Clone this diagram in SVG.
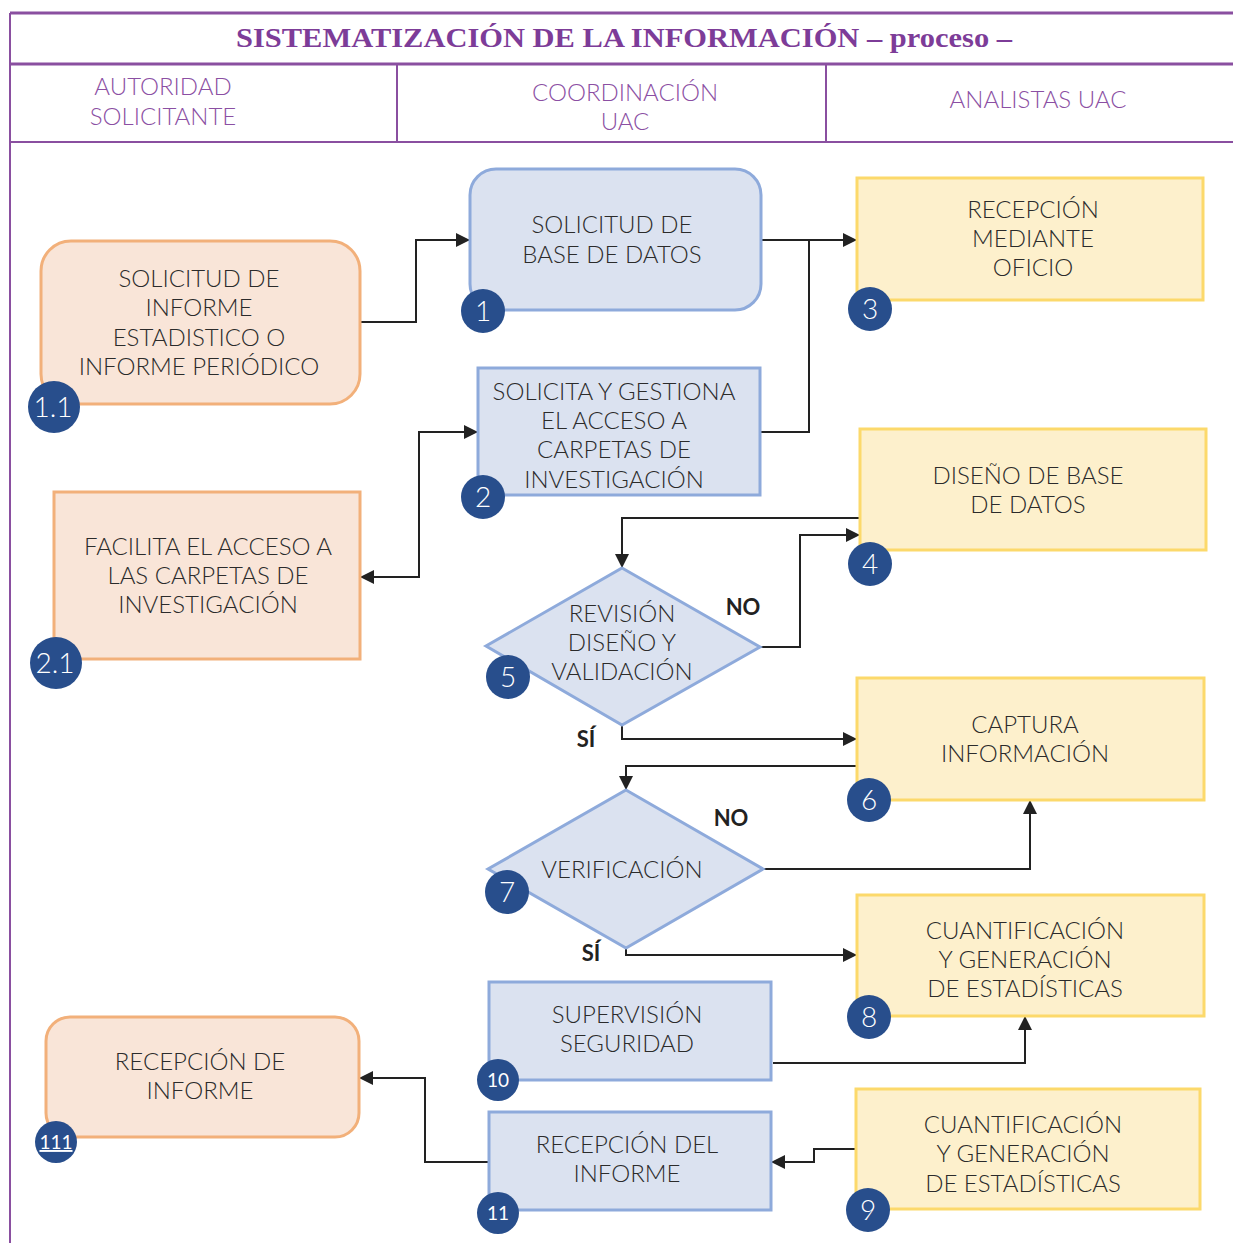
<svg xmlns="http://www.w3.org/2000/svg" width="1233" height="1243" viewBox="0 0 1233 1243">
<defs>
<marker id="ah" viewBox="0 0 10 10" refX="10" refY="5" markerWidth="14" markerHeight="14" markerUnits="userSpaceOnUse" orient="auto-start-reverse"><path d="M0,0 L10,5 L0,10 z" fill="#222"/></marker>
<style>
.frame{stroke:#8a4fa0;fill:none}
.title{font-family:"Liberation Serif",serif;font-weight:bold;font-size:28px;fill:#7d3c98}
.col{font-family:Lato,"Liberation Sans",sans-serif;font-weight:300;font-size:24px;fill:#8b4fa3;text-anchor:middle}
.t{font-family:Lato,"Liberation Sans",sans-serif;font-weight:300;font-size:24px;fill:#2b2b2b;text-anchor:middle}
.lbl{font-family:Lato,"Liberation Sans",sans-serif;font-weight:bold;font-size:22px;fill:#222;text-anchor:middle}
.orange{fill:#f9e5d8;stroke:#f2b07a;stroke-width:3}
.blue{fill:#dbe2f0;stroke:#8eaadb;stroke-width:3}
.yellow{fill:#fdf0cc;stroke:#fcd96b;stroke-width:3}
.badge{fill:#284e8c}
.bt{font-family:Lato,"Liberation Sans",sans-serif;font-weight:300;font-size:28px;fill:#fff;text-anchor:middle}
.bts{font-family:Lato,"Liberation Sans",sans-serif;font-size:19px;fill:#fff;text-anchor:middle}
.conn path{fill:none;stroke:#222;stroke-width:2}
</style>
</defs>
<rect width="1233" height="1243" fill="#fff"/>
<g id="header">
<line class="frame" x1="10" y1="13" x2="1233" y2="13" stroke-width="3"/>
<line class="frame" x1="10" y1="64" x2="1233" y2="64" stroke-width="3"/>
<line class="frame" x1="10" y1="142" x2="1233" y2="142" stroke-width="2"/>
<line class="frame" x1="10" y1="13" x2="10" y2="1243" stroke-width="2"/>
<line class="frame" x1="397" y1="64" x2="397" y2="142" stroke-width="2"/>
<line class="frame" x1="826" y1="64" x2="826" y2="142" stroke-width="2"/>
<text class="title" x="236" y="47" textLength="776" lengthAdjust="spacingAndGlyphs">SISTEMATIZACIÓN DE LA INFORMACIÓN – proceso –</text>
<text class="col" x="163" y="95">AUTORIDAD</text>
<text class="col" x="163" y="125">SOLICITANTE</text>
<text class="col" x="625" y="101">COORDINACIÓN</text>
<text class="col" x="625" y="130">UAC</text>
<text class="col" x="1038" y="108">ANALISTAS UAC</text>
</g>
<g class="conn" id="connectors">
<path d="M360,322 H416 V240 H470" marker-end="url(#ah)"/>
<path d="M360,577 H419 V432 H478" marker-start="url(#ah)" marker-end="url(#ah)"/>
<path d="M761,240 H857" marker-end="url(#ah)"/>
<path d="M760,432 H809 V240"/>
<path d="M860,518 H622 V568" marker-end="url(#ah)"/>
<path d="M760,647 H800 V535 H860" marker-end="url(#ah)"/>
<path d="M622,725 V739 H857" marker-end="url(#ah)"/>
<path d="M857,766 H626 V790" marker-end="url(#ah)"/>
<path d="M763,869 H1030 V800" marker-end="url(#ah)"/>
<path d="M626,948 V955 H857" marker-end="url(#ah)"/>
<path d="M773,1063 H1025 V1016" marker-end="url(#ah)"/>
<path d="M856,1149 H814 V1162 H771" marker-end="url(#ah)"/>
<path d="M489,1162 H425 V1078 H359" marker-end="url(#ah)"/>
</g>
<g id="n1_1">
<rect class="orange" x="41" y="241" width="319" height="163" rx="30"/>
<text class="t" x="199" y="287">SOLICITUD  DE</text>
<text class="t" x="199" y="316">INFORME</text>
<text class="t" x="199" y="346">ESTADISTICO O</text>
<text class="t" x="199" y="375">INFORME PERIÓDICO</text>
<circle class="badge" cx="54" cy="407" r="26"/>
<text class="bt" x="53" y="417">1.1</text>
</g>
<g id="n1">
<rect class="blue" x="470" y="169" width="291" height="141" rx="26"/>
<text class="t" x="612" y="233">SOLICITUD DE</text>
<text class="t" x="612" y="263">BASE DE DATOS</text>
<circle class="badge" cx="483" cy="311" r="22"/>
<text class="bt" x="483" y="321">1</text>
</g>
<g id="n3">
<rect class="yellow" x="857" y="178" width="346" height="122"/>
<text class="t" x="1033" y="218">RECEPCIÓN</text>
<text class="t" x="1033" y="247">MEDIANTE</text>
<text class="t" x="1033" y="276">OFICIO</text>
<circle class="badge" cx="870" cy="309" r="22"/>
<text class="bt" x="870" y="319">3</text>
</g>
<g id="n2">
<rect class="blue" x="478" y="368" width="282" height="127"/>
<text class="t" x="614" y="400">SOLICITA Y GESTIONA</text>
<text class="t" x="614" y="429">EL ACCESO A</text>
<text class="t" x="614" y="458">CARPETAS DE</text>
<text class="t" x="614" y="488">INVESTIGACIÓN</text>
<circle class="badge" cx="483" cy="497" r="22"/>
<text class="bt" x="483" y="507">2</text>
</g>
<g id="n2_1">
<rect class="orange" x="54" y="492" width="306" height="167"/>
<text class="t" x="208" y="555">FACILITA EL ACCESO A</text>
<text class="t" x="208" y="584">LAS CARPETAS DE</text>
<text class="t" x="208" y="613">INVESTIGACIÓN</text>
<circle class="badge" cx="56" cy="663" r="26"/>
<text class="bt" x="55" y="673">2.1</text>
</g>
<g id="n4">
<rect class="yellow" x="860" y="429" width="346" height="121"/>
<text class="t" x="1028" y="484">DISEÑO DE BASE</text>
<text class="t" x="1028" y="513">DE DATOS</text>
<circle class="badge" cx="870" cy="564" r="22"/>
<text class="bt" x="870" y="574">4</text>
</g>
<g id="n5">
<polygon class="blue" points="622,568 760,647 622,725 486,646"/>
<text class="t" x="622" y="622">REVISIÓN</text>
<text class="t" x="622" y="651">DISEÑO Y</text>
<text class="t" x="622" y="680">VALIDACIÓN</text>
<circle class="badge" cx="508" cy="677" r="22"/>
<text class="bt" x="508" y="687">5</text>
<text class="lbl" x="743" y="615">NO</text>
<text class="lbl" x="586" y="747">SÍ</text>
</g>
<g id="n6">
<rect class="yellow" x="857" y="678" width="347" height="122"/>
<text class="t" x="1025" y="733">CAPTURA</text>
<text class="t" x="1025" y="762">INFORMACIÓN</text>
<circle class="badge" cx="869" cy="800" r="22"/>
<text class="bt" x="869" y="810">6</text>
</g>
<g id="n7">
<polygon class="blue" points="626,790 763,869 626,948 488,869"/>
<text class="t" x="622" y="878">VERIFICACIÓN</text>
<circle class="badge" cx="507" cy="892" r="22"/>
<text class="bt" x="507" y="902">7</text>
<text class="lbl" x="731" y="826">NO</text>
<text class="lbl" x="591" y="961">SÍ</text>
</g>
<g id="n8">
<rect class="yellow" x="857" y="895" width="347" height="121"/>
<text class="t" x="1025" y="939">CUANTIFICACIÓN</text>
<text class="t" x="1025" y="968">Y GENERACIÓN</text>
<text class="t" x="1025" y="997">DE ESTADÍSTICAS</text>
<circle class="badge" cx="869" cy="1017" r="22"/>
<text class="bt" x="869" y="1027">8</text>
</g>
<g id="n10">
<rect class="blue" x="489" y="982" width="282" height="98"/>
<text class="t" x="627" y="1023">SUPERVISIÓN</text>
<text class="t" x="627" y="1052">SEGURIDAD</text>
<circle class="badge" cx="498" cy="1080" r="21"/>
<text class="bts" x="498" y="1087">10</text>
</g>
<g id="n111">
<rect class="orange" x="46" y="1017" width="313" height="120" rx="24"/>
<text class="t" x="200" y="1070">RECEPCIÓN DE</text>
<text class="t" x="200" y="1099">INFORME</text>
<circle class="badge" cx="56" cy="1142" r="21"/>
<text class="bts" x="56" y="1149" text-decoration="underline">111</text>
</g>
<g id="n11">
<rect class="blue" x="489" y="1112" width="282" height="98"/>
<text class="t" x="627" y="1153">RECEPCIÓN DEL</text>
<text class="t" x="627" y="1182">INFORME</text>
<circle class="badge" cx="498" cy="1213" r="21"/>
<text class="bts" x="498" y="1220">11</text>
</g>
<g id="n9">
<rect class="yellow" x="856" y="1089" width="344" height="120"/>
<text class="t" x="1023" y="1133">CUANTIFICACIÓN</text>
<text class="t" x="1023" y="1162">Y GENERACIÓN</text>
<text class="t" x="1023" y="1192">DE ESTADÍSTICAS</text>
<circle class="badge" cx="868" cy="1210" r="22"/>
<text class="bt" x="868" y="1220">9</text>
</g>
</svg>
